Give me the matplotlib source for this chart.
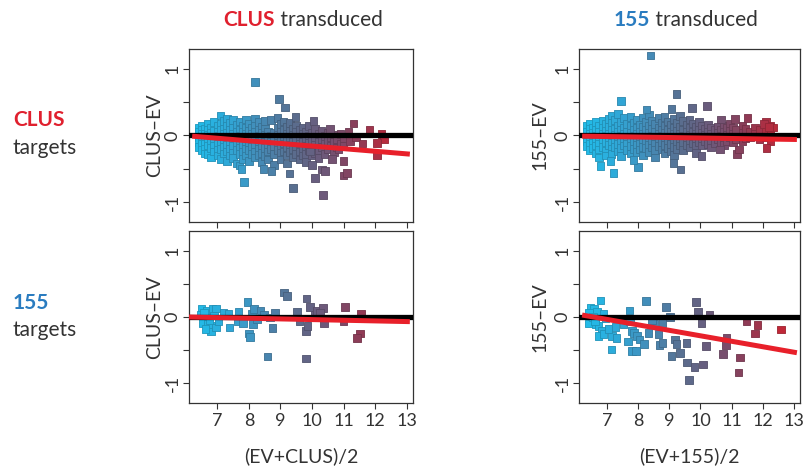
import numpy as np
import matplotlib
matplotlib.use("Agg")
import matplotlib.pyplot as plt
from matplotlib.colors import LinearSegmentedColormap, Normalize

plt.rcParams['font.family'] = ['Lato', 'DejaVu Sans']
plt.rcParams['axes.unicode_minus'] = False

# ---- data ----
# dense clouds: (x, [y values]) columns, plus scattered single points

# CLUS transduced, CLUS targets
tl_cols = [
    (6.40, [0.12, 0.05, -0.03, -0.10, -0.17]),
    (6.50, [0.15, 0.08, 0.02, -0.06, -0.13, -0.22]),
    (6.60, [0.10, 0.03, -0.05, -0.12, -0.20, -0.27]),
    (6.70, [0.18, 0.09, 0.01, -0.08, -0.15, -0.28]),
    (6.80, [0.12, 0.04, -0.04, -0.11, -0.19, -0.33]),
    (6.90, [0.20, 0.07, -0.02, -0.09, -0.16, -0.24]),
    (7.00, [0.15, 0.06, -0.01, -0.13, -0.21, -0.30]),
    (7.10, [0.30, 0.18, 0.08, -0.05, -0.12, -0.20, -0.35]),
    (7.20, [0.22, 0.10, 0.02, -0.08, -0.17, -0.27]),
    (7.30, [0.25, 0.14, 0.04, -0.04, -0.14, -0.24, -0.38]),
    (7.40, [0.19, 0.08, -0.02, -0.10, -0.20, -0.30]),
    (7.50, [0.23, 0.12, 0.03, -0.07, -0.16, -0.26, -0.34]),
    (7.60, [0.16, 0.06, -0.03, -0.12, -0.22, -0.42]),
    (7.70, [0.21, 0.09, 0.00, -0.09, -0.18, -0.28, -0.45]),
    (7.80, [0.14, 0.05, -0.05, -0.14, -0.25, -0.35]),
    (7.90, [0.24, 0.11, 0.02, -0.08, -0.20, -0.30]),
    (8.00, [0.18, 0.07, -0.03, -0.12, -0.22, -0.38]),
    (8.10, [0.12, 0.03, -0.07, -0.17, -0.28]),
    (8.20, [0.25, 0.15, 0.05, -0.04, -0.13, -0.24, -0.33]),
    (8.30, [0.20, 0.08, -0.01, -0.10, -0.20, -0.29]),
    (8.40, [0.13, 0.04, -0.06, -0.16, -0.26, -0.40]),
    (8.50, [0.22, 0.10, 0.01, -0.09, -0.19, -0.31]),
    (8.60, [0.06, -0.04, -0.13, -0.24, -0.36]),
    (8.70, [0.23, 0.00, -0.10, -0.20]),
    (8.80, [0.04, -0.07, -0.16, -0.28, -0.44]),
    (8.90, [0.26, 0.11, 0.01, -0.11, -0.22]),
    (9.00, [0.17, 0.06, -0.04, -0.15, -0.26, -0.36]),
    (9.10, [0.21, 0.08, -0.02, -0.12, -0.24]),
    (9.20, [0.13, 0.03, -0.08, -0.18, -0.30, -0.42]),
    (9.30, [0.19, 0.07, -0.04, -0.14, -0.25]),
    (9.40, [0.10, 0.01, -0.10, -0.20, -0.33]),
    (9.50, [0.15, 0.05, -0.06, -0.16, -0.28]),
    (9.60, [0.09, -0.02, -0.12, -0.24, -0.36]),
    (9.70, [0.12, 0.02, -0.09, -0.20, -0.30]),
    (9.80, [0.06, -0.05, -0.16, -0.28, -0.40]),
    (9.90, [0.14, 0.00, -0.11, -0.22]),
    (10.0, [0.04, -0.08, -0.18, -0.30]),
    (10.1, [0.10, -0.03, -0.14, -0.26]),
    (10.2, [0.02, -0.10, -0.22, -0.34]),
    (10.3, [0.07, -0.05, -0.17]),
    (10.4, [-0.01, -0.12, -0.28]),
    (10.5, [0.04, -0.08, -0.20]),
    (10.6, [-0.03, -0.15]),
    (10.7, [0.01, -0.10, -0.25]),
    (10.8, [-0.06, -0.18]),
    (10.9, [0.02, -0.12]),
    (11.0, [-0.04, -0.16]),
    (11.2, [-0.08]),
    (11.4, [-0.02]),
    (11.6, [-0.12]),
]
tl_pts = [(8.19, 0.80), (8.96, 0.55), (9.15, 0.42), (9.48, 0.28), (10.04, 0.22),
          (7.85, -0.70), (9.39, -0.79), (10.34, -0.89), (10.10, -0.64), (8.46, -0.50),
          (8.72, -0.53), (9.28, -0.57), (7.77, -0.50), (11.31, 0.18), (11.82, 0.08),
          (12.20, 0.02), (12.29, -0.05), (12.05, -0.11), (12.05, -0.30), (11.00, -0.60),
          (11.10, -0.56), (11.00, -0.38), (11.15, 0.05), (10.57, 0.10), (10.63, -0.35),
          (10.84, -0.21), (10.31, -0.51), (10.41, -0.53), (10.00, -0.44), (9.94, -0.24)]

# 155 transduced, CLUS targets
tr_cols = [
    (6.35, [0.14, 0.06, -0.02, -0.09, -0.16]),
    (6.45, [0.18, 0.10, 0.02, -0.05, -0.13, -0.22]),
    (6.55, [0.12, 0.04, -0.04, -0.11, -0.19]),
    (6.65, [0.20, 0.08, 0.00, -0.07, -0.15, -0.27]),
    (6.75, [0.15, 0.05, -0.03, -0.12, -0.21, -0.33]),
    (6.85, [0.22, 0.11, 0.02, -0.06, -0.17]),
    (6.95, [0.17, 0.07, -0.01, -0.10, -0.23, -0.30]),
    (7.05, [0.25, 0.13, 0.03, -0.05, -0.14]),
    (7.15, [0.30, 0.19, 0.08, -0.02, -0.11, -0.20, -0.28]),
    (7.25, [0.23, 0.10, 0.01, -0.08, -0.17]),
    (7.35, [0.32, 0.15, 0.05, -0.04, -0.13, -0.24]),
    (7.45, [0.20, 0.08, -0.01, -0.10, -0.19, -0.31]),
    (7.55, [0.26, 0.12, 0.03, -0.06, -0.15]),
    (7.65, [0.17, 0.06, -0.03, -0.12, -0.22]),
    (7.75, [0.28, 0.14, 0.04, -0.05, -0.16, -0.27]),
    (7.85, [0.19, 0.09, -0.01, -0.09, -0.20]),
    (7.95, [0.24, 0.11, 0.02, -0.07, -0.14, -0.25]),
    (8.05, [0.16, 0.05, -0.04, -0.12, -0.21]),
    (8.15, [0.27, 0.13, 0.03, -0.06, -0.17, -0.30]),
    (8.25, [0.20, 0.08, -0.02, -0.10, -0.19]),
    (8.35, [0.31, 0.15, 0.04, -0.05, -0.14, -0.25]),
    (8.45, [0.22, 0.10, 0.00, -0.09, -0.18]),
    (8.55, [0.17, 0.06, -0.03, -0.12, -0.22, -0.33]),
    (8.65, [0.26, 0.12, 0.02, -0.07, -0.16]),
    (8.75, [0.19, 0.08, -0.01, -0.10, -0.21]),
    (8.85, [0.28, 0.14, 0.04, -0.05, -0.14, -0.27]),
    (8.95, [0.21, 0.09, -0.02, -0.11, -0.19]),
    (9.05, [0.16, 0.05, -0.04, -0.13, -0.24]),
    (9.15, [0.25, 0.12, 0.02, -0.07, -0.17, -0.29]),
    (9.25, [0.19, 0.07, -0.02, -0.10, -0.20]),
    (9.35, [0.29, 0.13, 0.03, -0.06, -0.15]),
    (9.45, [0.22, 0.09, -0.01, -0.11, -0.22]),
    (9.55, [0.16, 0.05, -0.05, -0.14]),
    (9.65, [0.24, 0.11, 0.01, -0.08, -0.18]),
    (9.75, [0.18, 0.06, -0.03, -0.12]),
    (9.85, [0.13, 0.03, -0.07, -0.16, -0.26]),
    (9.95, [0.20, 0.08, -0.02, -0.10]),
    (10.05, [0.14, 0.04, -0.06, -0.15]),
    (10.15, [0.10, 0.01, -0.09]),
    (10.25, [0.16, 0.06, -0.04, -0.13]),
    (10.35, [0.11, 0.02, -0.08, -0.18]),
    (10.45, [0.08, -0.02, -0.11]),
    (10.55, [0.13, 0.04, -0.06]),
    (10.65, [0.09, -0.01, -0.10]),
    (10.75, [0.15, 0.05, -0.05, -0.14]),
    (10.85, [0.11, 0.01, -0.08]),
    (10.95, [0.18, 0.07, -0.03]),
    (11.05, [0.12, 0.02, -0.10]),
    (11.15, [0.09, -0.05]),
    (11.35, [0.14, 0.04, -0.08]),
    (11.45, [0.10, -0.04]),
    (11.60, [0.06, -0.02]),
    (11.75, [0.12, 0.03]),
    (11.90, [0.09, -0.06]),
    (12.10, [0.20, 0.05, -0.03]),
    (12.25, [0.15, 0.10, -0.08]),
    (12.35, [0.12]),
]
tr_pts = [(8.40, 1.20), (7.45, 0.52), (9.23, 0.62), (8.27, 0.39), (9.73, 0.41),
          (10.21, 0.44), (9.07, 0.40), (11.51, 0.26), (11.12, 0.25), (10.66, 0.24),
          (12.04, 0.17), (12.20, 0.13), (12.12, -0.19), (11.17, -0.28), (11.25, -0.21),
          (6.79, -0.46), (7.21, -0.56), (7.99, -0.47), (9.36, -0.51), (9.14, -0.41),
          (7.11, -0.38), (7.85, -0.37), (10.03, -0.31), (10.63, -0.21)]

# CLUS transduced, 155 targets
bl_pts = [(6.50, 0.12), (6.66, 0.10), (6.85, 0.12), (6.96, 0.13), (6.47, 0.04),
          (6.61, -0.01), (6.53, -0.09), (6.71, -0.11), (6.82, -0.14), (6.79, -0.22),
          (6.96, -0.16), (7.03, -0.06), (7.19, 0.07), (7.35, 0.05), (7.38, -0.16),
          (7.67, 0.08), (7.65, -0.07), (7.82, -0.09), (7.96, 0.23), (8.00, -0.25),
          (8.04, -0.30), (8.09, 0.05), (8.16, 0.12), (8.12, -0.11), (8.25, -0.04),
          (8.37, 0.10), (8.48, 0.04), (8.59, -0.60), (8.75, -0.17), (8.67, -0.01),
          (8.83, 0.07), (9.11, 0.37), (9.20, 0.32), (9.52, 0.08), (9.60, -0.07),
          (9.83, 0.28), (9.94, 0.15), (9.81, -0.21), (9.85, -0.14), (9.81, -0.63),
          (10.10, 0.03), (10.15, 0.09), (10.34, 0.14), (10.25, 0.07), (10.38, -0.10),
          (11.05, 0.15), (11.00, -0.07), (11.55, 0.05), (11.52, -0.25), (11.42, -0.32),
          (6.58, 0.06), (6.90, 0.02), (6.75, -0.05), (6.62, -0.18)]

# 155 transduced, 155 targets
br_pts = [(6.79, 0.25), (6.47, 0.14), (6.58, 0.12), (6.68, 0.08), (6.42, 0.07),
          (6.89, 0.05), (6.52, -0.04), (6.42, -0.10), (6.63, -0.11), (6.73, -0.14),
          (6.84, -0.21), (6.73, -0.29), (6.89, -0.26), (7.16, -0.29), (7.30, -0.32),
          (7.14, -0.49), (7.27, -0.15), (7.53, -0.11), (7.72, 0.10), (7.74, -0.06),
          (7.80, -0.21), (7.87, -0.24), (7.96, -0.29), (8.04, -0.34), (8.19, -0.41),
          (7.68, -0.37), (7.80, -0.51), (7.93, -0.51), (8.25, 0.24), (8.33, -0.24),
          (8.51, -0.11), (8.65, -0.26), (8.68, -0.42), (8.78, -0.39), (8.78, -0.09),
          (8.89, 0.15), (9.02, 0.00), (9.07, -0.59), (9.18, -0.34), (9.23, -0.41),
          (9.34, -0.54), (9.55, -0.39), (9.57, -0.69), (9.63, -0.95), (9.81, -0.76),
          (10.08, -0.72), (9.85, 0.23), (9.92, 0.08), (10.03, -0.09), (10.18, -0.44),
          (10.29, 0.04), (10.72, -0.56), (10.84, -0.31), (10.82, -0.42), (11.22, -0.84),
          (11.27, -0.61), (11.48, -0.07), (11.83, -0.12), (11.76, -0.25), (12.59, -0.19),
          (6.55, 0.00), (6.62, -0.06), (6.95, -0.02), (7.05, -0.18), (8.45, -0.05)]

# red fit lines: (x0, y0, x1, y1)
tl_fit = (6.2, -0.01, 13.1, -0.28)
tr_fit = (6.2, -0.01, 13.1, -0.06)
bl_fit = (6.1, 0.00, 13.1, -0.07)
br_fit = (6.2, 0.03, 13.1, -0.54)

col_titles = [("CLUS", " transduced", "#e0202e"), ("155", " transduced", "#2a7cc0")]
row_titles = [("CLUS", "#e0202e"), ("155", "#2a7cc0")]
ylabels = ["CLUS\u2013EV", "155\u2013EV"]
xlabels = ["(EV+CLUS)/2", "(EV+155)/2"]
xticks = [7, 8, 9, 10, 11, 12, 13]


def expand(cols, pts):
    xs, ys = [], []
    for x, yl in cols:
        for y in yl:
            xs.append(x)
            ys.append(y)
    for x, y in pts:
        xs.append(x)
        ys.append(y)
    return np.array(xs), np.array(ys)


cmap = LinearSegmentedColormap.from_list(
    "ma", ["#22bbe8", "#30a6d6", "#4689b4", "#5a6d8e", "#6f5677", "#8e3b56", "#c02838"])
norm = Normalize(6.4, 12.5)

W, H = 804, 469
fig = plt.figure(figsize=(W / 100, H / 100), dpi=100)

# axes boxes in pixels: left, top, right, bottom
boxes = [[(189, 49, 413, 222), (579, 49, 800, 222)],
         [(189, 231, 413, 403), (579, 231, 800, 403)]]
data = [[(expand(tl_cols, tl_pts), tl_fit), (expand(tr_cols, tr_pts), tr_fit)],
        [(expand([], bl_pts), bl_fit), (expand([], br_pts), br_fit)]]
ylab_x = [155, 540]
txt = "#333333"

for r in range(2):
    for c in range(2):
        l, t, rr, b = boxes[r][c]
        ax = fig.add_axes([l / W, 1 - b / H, (rr - l) / W, (b - t) / H])
        (xs, ys), fit = data[r][c]
        cols = cmap(norm(xs))
        edge = cols.copy()
        edge[:, :3] *= 0.82
        ax.scatter(xs, ys, marker='s', s=30, c=cols, edgecolors=edge,
                   linewidths=0.6, zorder=2)
        ax.axhline(0, color='black', lw=3.8, zorder=3)
        ax.plot([fit[0], fit[2]], [fit[1], fit[3]], color='#e8202a', lw=3.6,
                solid_capstyle='butt', zorder=4)
        ax.set_xlim(6.1, 13.2)
        ax.set_ylim(-1.3, 1.3)
        ax.set_xticks(xticks)
        ax.set_yticks([-1, -0.5, 0, 0.5, 1])
        ax.set_yticklabels(["-1", "", "0", "", "1"])
        if r == 1:
            ax.set_xticklabels([str(v) for v in xticks])
        else:
            ax.set_xticklabels([])
        ax.tick_params(direction='out', length=4, width=0.8, colors='#333333',
                       labelcolor=txt, labelsize=13, pad=3)
        ax.tick_params(axis='y', labelrotation=90, pad=2)
        for lab in ax.get_yticklabels():
            lab.set_verticalalignment('center')
        for sp in ax.spines.values():
            sp.set_linewidth(0.9)
            sp.set_color('#333333')
        ax.set_ylabel(ylabels[c], fontsize=14, color=txt, va='center')
        ax.yaxis.set_label_coords((ylab_x[c] - l) / (rr - l), 0.5)
        if r == 1:
            fig.text((l + rr) / 2 / W, 1 - 456 / H, xlabels[c], fontsize=14,
                     color=txt, ha='center', va='center')

# column titles: bold coloured word followed by plain text
fig.canvas.draw()
rend = fig.canvas.get_renderer()
title_cx = [303, 686]
for c, (word, rest, colr) in enumerate(col_titles):
    t1 = fig.text(0, 1 - 20 / H, word, fontsize=15, weight='bold', color=colr,
                  ha='left', va='center')
    t2 = fig.text(0, 1 - 20 / H, rest, fontsize=15, color=txt, ha='left', va='center')
    w1 = t1.get_window_extent(rend).width
    w2 = t2.get_window_extent(rend).width
    x0 = title_cx[c] - (w1 + w2) / 2
    t1.set_x(x0 / W)
    t2.set_x((x0 + w1) / W)

# row titles on the left
row_y = [(120, 148), (303, 330)]
for r, (word, colr) in enumerate(row_titles):
    fig.text(13 / W, 1 - row_y[r][0] / H, word, fontsize=15, weight='bold',
             color=colr, ha='left', va='center')
    fig.text(13 / W, 1 - row_y[r][1] / H, "targets", fontsize=15, color=txt,
             ha='left', va='center')

fig.savefig("out.png", dpi=100)
